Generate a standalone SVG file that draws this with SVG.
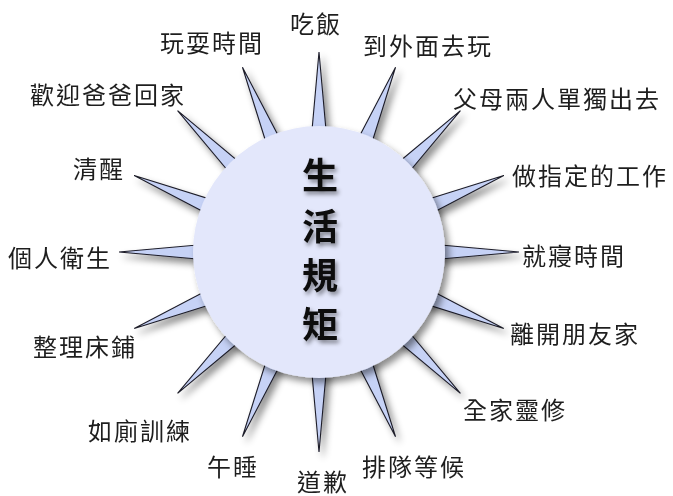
<svg xmlns="http://www.w3.org/2000/svg" xmlns:xlink="http://www.w3.org/1999/xlink" width="673" height="496" viewBox="0 0 673 496">
  <style>
    .lbl { font-family: "Noto Sans CJK TC", "Noto Sans CJK SC", sans-serif; font-size: 24px; letter-spacing: 2px; fill: #1e1e1e; dominant-baseline: central; }
    .title { font-family: "Noto Sans CJK TC", "Noto Sans CJK SC", sans-serif; font-size: 36px; font-weight: bold; fill: #111; text-anchor: middle; dominant-baseline: central; }
    .spike { fill: #c6d2f6; stroke: #1c1c28; stroke-width: 1.1; stroke-linejoin: miter; }
  </style>
  <defs>
    <filter id="shadow" x="-20%" y="-20%" width="150%" height="150%">
      <feDropShadow dx="4" dy="5" stdDeviation="3.5" flood-color="#000" flood-opacity="0.45"/>
    </filter>
    <filter id="tshadow" x="-30%" y="-30%" width="170%" height="170%">
      <feDropShadow dx="2" dy="3" stdDeviation="2" flood-color="#000" flood-opacity="0.45"/>
    </filter>
    <path id="spike" class="spike" d="M 105 -8.5 L 200 0 L 105 8.5 Z"/>
  </defs>
  <rect width="673" height="496" fill="#ffffff"/>
  <g id="connectors" filter="url(#shadow)">
    <g transform="translate(319 252)">
      <use xlink:href="#spike" transform="rotate(-90)"/>
      <use xlink:href="#spike" transform="rotate(-67.5)"/>
      <use xlink:href="#spike" transform="rotate(-45)"/>
      <use xlink:href="#spike" transform="rotate(-22.5)"/>
      <use xlink:href="#spike" transform="rotate(0)"/>
      <use xlink:href="#spike" transform="rotate(22.5)"/>
      <use xlink:href="#spike" transform="rotate(45)"/>
      <use xlink:href="#spike" transform="rotate(67.5)"/>
      <use xlink:href="#spike" transform="rotate(90)"/>
      <use xlink:href="#spike" transform="rotate(112.5)"/>
      <use xlink:href="#spike" transform="rotate(135)"/>
      <use xlink:href="#spike" transform="rotate(157.5)"/>
      <use xlink:href="#spike" transform="rotate(180)"/>
      <use xlink:href="#spike" transform="rotate(202.5)"/>
      <use xlink:href="#spike" transform="rotate(225)"/>
      <use xlink:href="#spike" transform="rotate(247.5)"/>
    </g>
  </g>
  <g id="center">
    <circle cx="319" cy="252" r="126" fill="#e3e7fb" filter="url(#shadow)"/>
    <g filter="url(#tshadow)">
      <text class="title" x="320" y="173">生</text>
      <text class="title" x="320" y="224">活</text>
      <text class="title" x="320" y="273">規</text>
      <text class="title" x="320" y="322">矩</text>
    </g>
  </g>
  <g id="n-eat"><text class="lbl" x="290" y="22">吃飯</text></g>
  <g id="n-outside"><text class="lbl" x="363" y="44">到外面去玩</text></g>
  <g id="n-parents"><text class="lbl" x="453" y="97">父母兩人單獨出去</text></g>
  <g id="n-chores"><text class="lbl" x="512" y="174">做指定的工作</text></g>
  <g id="n-bedtime"><text class="lbl" x="522" y="254">就寢時間</text></g>
  <g id="n-leaving"><text class="lbl" x="510" y="332">離開朋友家</text></g>
  <g id="n-devotion"><text class="lbl" x="463" y="408">全家靈修</text></g>
  <g id="n-queue"><text class="lbl" x="362" y="465">排隊等候</text></g>
  <g id="n-apology"><text class="lbl" x="297" y="480">道歉</text></g>
  <g id="n-nap"><text class="lbl" x="207" y="465">午睡</text></g>
  <g id="n-potty"><text class="lbl" x="88" y="429">如廁訓練</text></g>
  <g id="n-bed"><text class="lbl" x="33" y="345">整理床鋪</text></g>
  <g id="n-hygiene"><text class="lbl" x="8" y="256">個人衛生</text></g>
  <g id="n-awake"><text class="lbl" x="73" y="167">清醒</text></g>
  <g id="n-dad"><text class="lbl" x="30" y="93">歡迎爸爸回家</text></g>
  <g id="n-play"><text class="lbl" x="160" y="41">玩耍時間</text></g>
</svg>
